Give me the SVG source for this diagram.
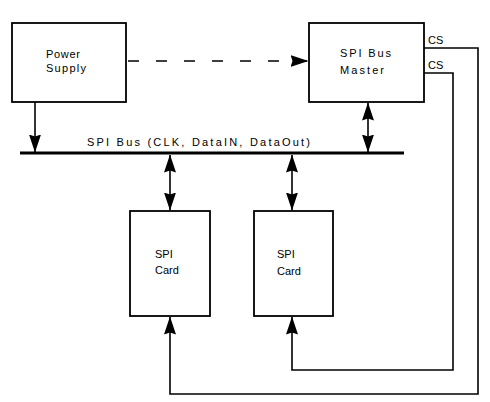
<svg xmlns="http://www.w3.org/2000/svg" width="490" height="402" viewBox="0 0 490 402">
<style>
.box{fill:#fff;stroke:#000;stroke-width:1.8}
.t{font-family:"Liberation Sans",Arial,sans-serif;font-size:11px;fill:#000}
.ln{fill:none;stroke:#000;stroke-width:1.6}
</style>
<defs>
<marker id="ah" viewBox="0 0 18 12" refX="17.5" refY="6" markerWidth="18" markerHeight="12" markerUnits="userSpaceOnUse" orient="auto-start-reverse">
<path d="M0,0 L18,6 L0,12 L2,6 Z" fill="#000"/>
</marker>
</defs>
<rect width="490" height="402" fill="#fff"/>
<g id="power">
<rect class="box" x="12" y="23" width="114" height="79"/>
<text class="t" x="46" y="58" textLength="34">Power</text>
<text class="t" x="46" y="72" textLength="40">Supply</text>
</g>
<g id="master">
<rect class="box" x="309" y="23" width="115" height="79"/>
<text class="t" x="340" y="57" textLength="51">SPI Bus</text>
<text class="t" x="340" y="74" textLength="44">Master</text>
<text class="t" x="428" y="44">CS</text>
<text class="t" x="428" y="69">CS</text>
</g>
<g id="card1">
<rect class="box" x="130" y="211" width="80" height="105"/>
<text class="t" x="155" y="258">SPI</text>
<text class="t" x="155" y="274">Card</text>
</g>
<g id="card2">
<rect class="box" x="254" y="211" width="79" height="105"/>
<text class="t" x="277" y="258">SPI</text>
<text class="t" x="277" y="275">Card</text>
</g>
<g id="bus">
<line x1="20" y1="153" x2="404" y2="153" stroke="#000" stroke-width="2.8"/>
<text class="t" x="87" y="146" textLength="223">SPI Bus (CLK, DataIN, DataOut)</text>
</g>
<g id="connectors">
<line class="ln" x1="128" y1="61" x2="308" y2="61" stroke-dasharray="11,17" marker-end="url(#ah)"/>
<line class="ln" x1="35" y1="102" x2="35" y2="152" marker-end="url(#ah)"/>
<line class="ln" x1="368" y1="103" x2="368" y2="152" marker-start="url(#ah)" marker-end="url(#ah)"/>
<line class="ln" x1="170" y1="155" x2="170" y2="210" marker-start="url(#ah)" marker-end="url(#ah)"/>
<line class="ln" x1="292" y1="155" x2="292" y2="210" marker-start="url(#ah)" marker-end="url(#ah)"/>
<polyline class="ln" points="424,48 478,48 478,394 170,394 170,317" marker-end="url(#ah)"/>
<polyline class="ln" points="424,73 453,73 453,370 292,370 292,317" marker-end="url(#ah)"/>
</g>
</svg>
